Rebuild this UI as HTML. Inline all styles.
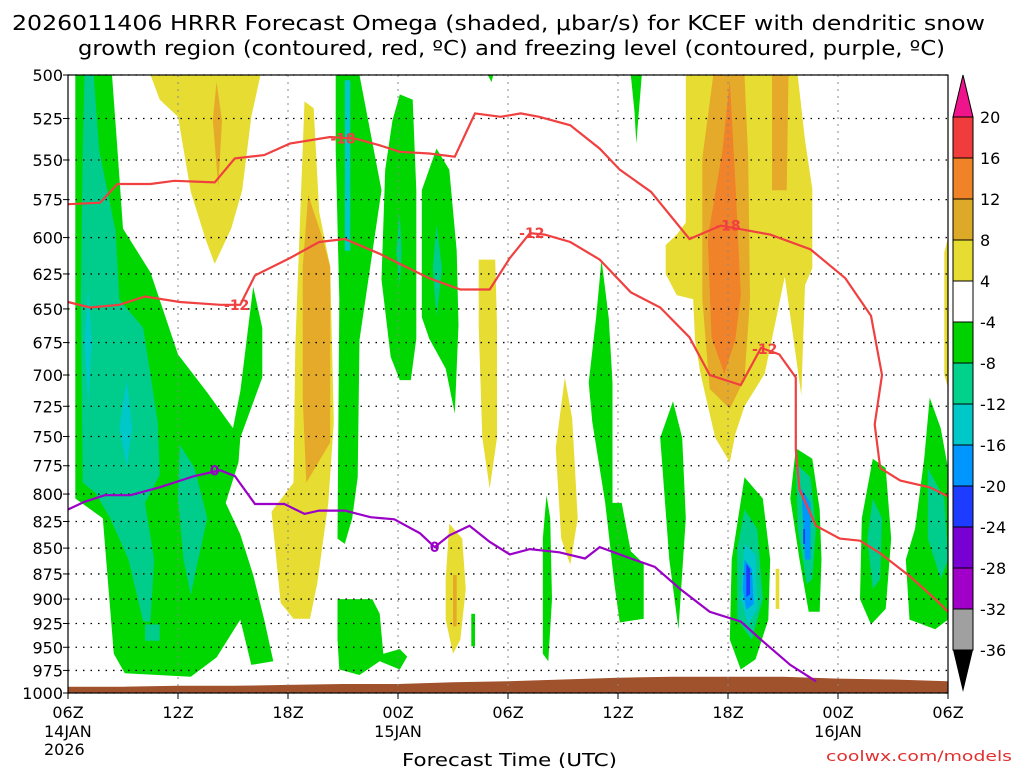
<!DOCTYPE html>
<html><head><meta charset="utf-8"><style>
body{margin:0;background:#fff;}
svg{display:block;font-family:"DejaVu Sans","Liberation Sans",sans-serif;}
</style></head><body>
<svg id="chart" width="1024" height="768">
<text x="12" y="30" font-size="20" textLength="973" lengthAdjust="spacingAndGlyphs">2026011406 HRRR Forecast Omega (shaded, μbar/s) for KCEF with dendritic snow</text>
<text x="78" y="55" font-size="20" textLength="867" lengthAdjust="spacingAndGlyphs">growth region (contoured, red, ºC) and freezing level (contoured, purple, ºC)</text>
<g id="fills"></g><g id="grid"></g><g id="lines"></g><g id="axes"></g><g id="cbar"></g>
<text x="402" y="766" font-size="18" textLength="215" lengthAdjust="spacingAndGlyphs">Forecast Time (UTC)</text>
<text x="826" y="761" font-size="14" textLength="186" lengthAdjust="spacingAndGlyphs" fill="#e03030">coolwx.com/models</text>
</svg>
<script>
const levels=[500,525,550,575,600,625,650,675,700,725,750,775,800,825,850,875,900,925,950,975,1000];
const timeTicks=[0,6,12,18,24,30,36,42,48];
const timeLabels=["06Z","12Z","18Z","00Z","06Z","12Z","18Z","00Z","06Z"];
const dateLabels={0:["14JAN","2026"],18:["15JAN"],42:["16JAN"]};
const cbLevels=[20,16,12,8,4,-4,-8,-12,-16,-20,-24,-28,-32,-36];
const cbColors=["#f03c3c","#f08228","#dcaa28","#e6dc32","#ffffff","#00d200","#00d28c","#00c8c8","#0096ff","#1e3cff","#7800d2","#a000c8","#a0a0a0"];
const C={yellow:"#e6dc32",gold:"#e6aa2a",orange:"#f0822a",green:"#00d700",teal:"#00cc8c",cyan:"#00c8c8",blue:"#0096ff",dblue:"#1e3cff"};
const regions=[
 ["green",[[0.4,500],[2.4,500],[2.7,544],[3.0,594],[4.5,624],[6.0,684],[7.6,714],[9.0,743],[9.4,713],[10.1,634],[10.6,664],[10.6,702],[9.4,751],[9.3,772],[8.6,808],[9.4,837],[10.1,876],[10.7,921],[11.2,965],[10.0,969],[9.4,921],[8.1,961],[6.7,982],[3.1,978],[2.5,957],[1.9,822],[0.4,804]]],
 ["teal",[[0.9,500],[1.4,500],[1.7,544],[2.6,596],[2.8,643],[4.1,664],[4.9,738],[5.0,783],[4.2,808],[4.7,861],[4.5,923],[4.1,923],[3.3,861],[2.3,822],[1.5,799],[0.8,790],[0.7,643],[0.8,544]]],
 ["teal",[[6.1,757],[6.9,777],[7.6,822],[7.1,861],[6.7,896],[6.3,861],[6.0,804]]],
 ["teal",[[4.2,926],[5.0,926],[5.0,943],[4.2,943]]],
 ["cyan",[[1.1,636],[1.3,674],[1.1,724],[0.9,674]]],
 ["cyan",[[3.2,704],[3.5,743],[3.2,776],[2.8,743]]],
 ["yellow",[[4.5,500],[10.5,500],[10.0,524],[9.5,569],[8.9,594],[8.0,618],[7.5,601],[6.7,570],[6.0,524],[5.0,514]]],
 ["gold",[[8.1,504],[8.4,526],[8.2,567],[7.9,526]]],
 ["yellow",[[12.9,515],[13.4,519],[13.7,583],[14.3,620],[14.5,738],[14.2,808],[13.6,884],[13.2,920],[12.3,920],[11.6,904],[11.1,816],[12.3,790],[12.4,678],[12.8,543]]],
 ["gold",[[13.1,572],[13.9,601],[14.3,620],[14.3,755],[13.0,790],[12.8,718],[12.8,620]]],
 ["green",[[14.6,500],[15.9,500],[17.1,569],[15.9,673],[15.8,785],[15.5,822],[15.1,846],[14.7,841],[14.8,643],[14.6,544]]],
 ["cyan",[[15.1,503],[15.4,503],[15.4,609],[15.1,609]]],
 ["green",[[18.1,511],[18.8,514],[19.0,569],[19.0,672],[18.7,704],[18.1,704],[17.6,686],[17.1,629],[17.3,556],[17.7,526]]],
 ["green",[[20.1,543],[20.8,556],[21.2,609],[21.3,662],[21.1,731],[20.6,695],[19.7,672],[19.3,656],[19.3,569]]],
 ["teal",[[20.1,591],[20.4,621],[20.1,656],[19.9,621]]],
 ["teal",[[18.1,584],[18.2,609],[18.1,633],[17.9,609]]],
 ["yellow",[[22.4,615],[23.3,615],[23.4,662],[23.4,751],[23.0,795],[22.6,751],[22.4,662]]],
 ["green",[[14.7,900],[16.6,900],[17.0,915],[17.2,957],[18.1,952],[18.5,960],[18.1,974],[17.0,965],[15.9,980],[14.8,974],[14.7,942]]],
 ["yellow",[[20.8,827],[21.5,841],[21.7,890],[21.4,942],[21.0,957],[20.6,921],[20.6,880]]],
 ["gold",[[21.0,876],[21.2,876],[21.2,928],[21.0,928]]],
 ["green",[[22.0,915],[22.2,915],[22.2,949],[22.0,949]]],
 ["yellow",[[27.1,702],[27.5,735],[27.8,822],[27.4,866],[26.9,841],[26.6,760]]],
 ["green",[[26.1,801],[26.3,822],[26.4,900],[26.2,965],[25.9,957],[25.9,841]]],
 ["green",[[29.1,615],[29.5,657],[29.7,706],[29.7,808],[30.2,808],[30.7,853],[31.4,865],[31.4,920],[30.1,924],[29.8,884],[29.3,808],[28.6,738],[28.4,706],[28.8,657]]],
 ["green",[[30.7,500],[31.3,500],[31.0,540],[30.9,521]]],
 ["green",[[22.9,500],[23.2,500],[23.1,504]]],
 ["green",[[33.0,721],[33.5,751],[33.7,822],[33.3,931],[32.8,861],[32.3,751]]],
 ["yellow",[[33.7,500],[39.8,500],[40.2,538],[40.6,568],[40.6,621],[40.2,633],[40.0,716],[39.1,627],[38.0,699],[36.9,725],[36.4,748],[36.1,772],[35.3,751],[34.5,699],[34.2,673],[34.1,643],[33.2,640],[32.6,625],[32.6,605],[33.2,598],[33.7,590]]],
 ["gold",[[35.2,500],[36.9,500],[37.1,549],[37.2,643],[36.9,703],[36.1,727],[35.0,711],[34.6,643],[34.6,549]]],
 ["gold",[[38.4,500],[39.3,500],[39.2,569],[38.4,569]]],
 ["orange",[[36.1,503],[36.4,563],[36.7,640],[36.4,673],[35.8,699],[35.1,671],[34.9,600],[35.7,544]]],
 ["yellow",[[47.8,610],[48,600],[48,710],[47.8,700]]],
 ["green",[[36.9,785],[37.9,804],[38.3,861],[38.2,921],[37.5,963],[36.7,974],[36.1,942],[36.2,861]]],
 ["teal",[[36.9,814],[37.6,832],[37.9,900],[37.3,942],[36.5,921],[36.5,851]]],
 ["cyan",[[36.9,846],[37.5,856],[37.6,910],[37.1,926],[36.7,900]]],
 ["blue",[[36.9,861],[37.3,870],[37.4,905],[37.0,911],[36.8,890]]],
 ["dblue",[[37.0,865],[37.2,870],[37.2,895],[37.0,898]]],
 ["yellow",[[38.6,870],[38.8,870],[38.8,910],[38.6,910]]],
 ["green",[[39.7,760],[40.6,769],[41.0,814],[41.1,861],[41.0,913],[40.4,913],[39.9,861],[39.4,804]]],
 ["teal",[[39.7,773],[40.5,785],[40.8,832],[40.6,880],[40.3,885],[39.8,832]]],
 ["blue",[[40.0,795],[40.5,808],[40.5,861],[40.2,861]]],
 ["dblue",[[40.1,832],[40.2,832],[40.2,846],[40.1,846]]],
 ["green",[[43.9,769],[44.6,777],[44.9,841],[44.6,910],[43.8,926],[43.2,900],[43.3,822]]],
 ["teal",[[43.9,804],[44.4,822],[44.3,880],[43.9,890],[43.6,841]]],
 ["green",[[47.0,718],[47.6,743],[48,777],[48,921],[47.3,931],[45.9,921],[45.7,861],[46.2,832],[46.7,769]]],
 ["teal",[[46.9,777],[47.8,804],[48,861],[47.6,880],[46.9,841]]]
];
const neg18=[[0,578],[1.75,577],[2.7,565],[4.5,565],[5.8,563],[8.0,564],[9.1,549],[10.7,547],[12.1,540],[14.3,536],[15.7,537],[17.0,541],[18.1,545],[19.7,546],[21.1,548],[22.2,522],[23.6,524],[24.7,522],[25.7,524],[27.4,529],[29.0,543],[30.1,556],[31.8,570],[33.9,601],[35.6,592],[38.3,598],[40.5,608],[42.4,628],[43.8,655],[44.4,700],[44.0,740],[44.3,777],[45.4,788],[47.0,794],[48,802]];
const neg12=[[0,645],[1.2,649],[2.8,647],[4.2,641],[6.1,645],[8.3,647],[9.4,647],[10.2,626],[12.1,614],[13.7,603],[15.1,601],[17.0,611],[18.1,618],[19.7,628],[21.4,636],[23.0,636],[24.1,614],[25.2,597],[26.0,598],[27.4,603],[29.0,615],[30.7,638],[32.3,649],[33.9,671],[35.0,700],[36.7,708],[37.8,679],[38.8,684],[39.7,702],[39.7,761],[39.9,796],[40.8,829],[42.1,841],[43.2,843],[44.3,855],[45.9,877],[47.3,900],[48,913]];
const zeroC=[[0,814],[0.9,807],[2.0,801],[3.4,801],[5.0,794],[6.9,784],[8.3,779],[9.1,784],[10.2,809],[11.8,809],[12.9,818],[13.7,815],[15.1,815],[16.5,821],[17.8,823],[19.2,836],[20.0,849],[20.8,838],[21.9,829],[23.0,844],[24.1,856],[25.2,851],[26.8,854],[28.2,860],[29.0,849],[30.7,860],[32.0,868],[33.4,890],[35.0,913],[36.7,923],[37.8,942],[39.4,969],[40.8,987]];
const terrainHours=[0,3,6,9,12,15,18,21,24,27,30,33,36,39,42,45,48];
const terrainP=[993,993,992,992,991,990,990,988,987,985,983,982,982,982,984,985,987];
const labels18=[[15.0,537],[36.0,592]];
const labels12=[[9.2,647],[25.3,597],[38.0,680]];
const labels0=[[8.0,779],[20.0,849]];

const X0=68,X1=948,Y0=75,Y1=693;
const xs=h=>X0+(X1-X0)*h/48;
const ys=p=>Y0+(Y1-Y0)*Math.log(p/500)/Math.log(2);
const NS="http://www.w3.org/2000/svg";
function mk(tag,attrs,parent,text){const e=document.createElementNS(NS,tag);for(const k in attrs)e.setAttribute(k,attrs[k]);if(text!==undefined)e.textContent=text;parent.appendChild(e);return e;}
const fills=document.getElementById('fills'),grid=document.getElementById('grid'),lines=document.getElementById('lines'),axes=document.getElementById('axes'),cbar=document.getElementById('cbar');
regions.forEach(r=>{
 const e=mk('polygon',{points:r[1].map(q=>xs(q[0]).toFixed(1)+','+ys(q[1]).toFixed(1)).join(' '),fill:C[r[0]]},fills);
 
 
});
let tp='M'+xs(0)+','+Y1+' '+terrainHours.map((h,i)=>'L'+xs(h).toFixed(1)+','+ys(terrainP[i]).toFixed(1)).join(' ')+' L'+X1+','+Y1+' Z';
const ter=mk('path',{d:tp,fill:'#a0522d'},fills);


levels.forEach(p=>{
 const y=ys(p);
 const g=mk('line',{x1:X0,x2:X1,y1:y,y2:y,stroke:'#000','stroke-width':1.3,'stroke-dasharray':'1.5 6'},grid);
 
 
 const t=mk('text',{x:63,y:y+6,'text-anchor':'end','font-size':16},axes,String(p));
 
 
 mk('line',{x1:X0-5,x2:X0,y1:y,y2:y,stroke:'#000'},axes);
});
timeTicks.forEach((h,i)=>{
 const x=xs(h);
 const g=mk('line',{x1:x,x2:x,y1:Y0,y2:Y1,stroke:'#888','stroke-width':1,'stroke-dasharray':'2 5'},grid);
 
 
 mk('line',{x1:x,x2:x,y1:Y1,y2:Y1+6,stroke:'#000'},axes);
 const t=mk('text',{x:x,y:718,'text-anchor':'middle','font-size':16},axes,timeLabels[i]);
 
 
 if(dateLabels[h]){dateLabels[h].forEach((s,j)=>{
  const d=mk('text',{x:h==0?X0-24:x,y:737+j*18,'text-anchor':h==0?'start':'middle','font-size':16},axes,s);
  
  
 });}
});
const fr=mk('rect',{x:X0,y:Y0,width:X1-X0,height:Y1-Y0,fill:'none',stroke:'#000','stroke-width':1.2},axes);


function drawLine(arr,color,name){
 const e=mk('polyline',{points:arr.map(q=>xs(q[0]).toFixed(1)+','+ys(q[1]).toFixed(1)).join(' '),fill:'none',stroke:color,'stroke-width':2.2},lines);
 
 
}
drawLine(neg18,'#f04040','contour-minus18');
drawLine(neg12,'#f04040','contour-minus12');
drawLine(zeroC,'#9a00c8','freezing-level-contour');
function lbl(arr,txt,color,name){arr.forEach(q=>{
 const x=xs(q[0]),y=ys(q[1]);
 const t=mk('text',{x:x,y:y+5,'text-anchor':'middle','font-size':14,'font-weight':'bold',fill:color},lines,txt);
 
 
});}
lbl(labels18,'-18','#f04040','contour-label-minus18');
lbl(labels12,'-12','#f04040','contour-label-minus12');
lbl(labels0,'0','#9a00c8','contour-label-zero');
const CB0=117,CBstep=41,CBx=953,CBw=20;
const tri=mk('polygon',{points:`${CBx},${CB0} ${CBx+CBw},${CB0} ${CBx+CBw/2},75`,fill:'#f0148c',stroke:'#000'},cbar);


cbColors.forEach((c,i)=>{
 const r=mk('rect',{x:CBx,y:CB0+i*CBstep,width:CBw,height:CBstep,fill:c,stroke:'#000','stroke-width':1},cbar);
 
 
});
const yb=CB0+cbColors.length*CBstep;
const tri2=mk('polygon',{points:`${CBx},${yb} ${CBx+CBw},${yb} ${CBx+CBw/2},${yb+42}`,fill:'#000'},cbar);


cbLevels.forEach((v,i)=>{
 const t=mk('text',{x:980,y:CB0+i*CBstep+6,'font-size':16},cbar,String(v));
 
 
});
</script>
</body></html>
